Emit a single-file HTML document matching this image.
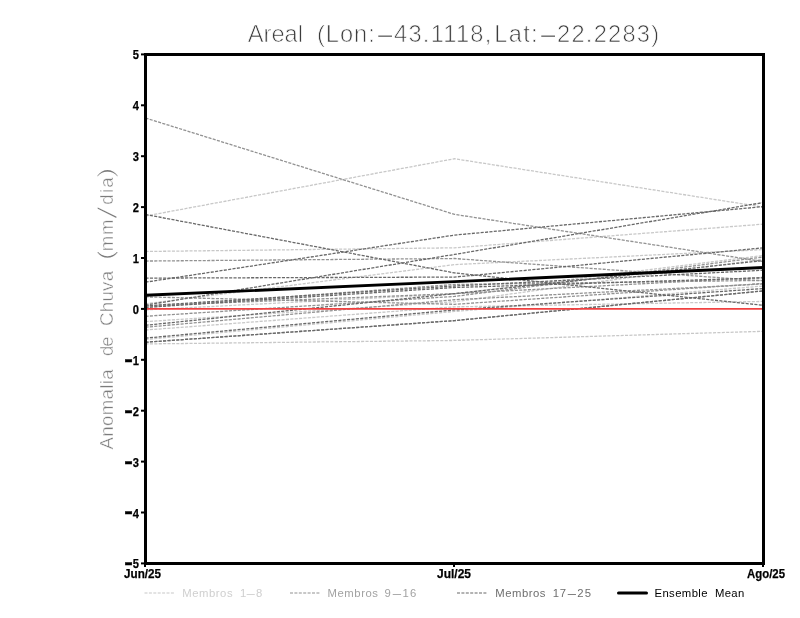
<!DOCTYPE html>
<html lang="pt">
<head>
<meta charset="utf-8">
<title>Areal (Lon:-43.1118,Lat:-22.2283)</title>
<style>
html,body{margin:0;padding:0;background:#fff;}
body{width:800px;height:618px;overflow:hidden;}
svg{display:block;}
text{font-family:"Liberation Sans",sans-serif;}
.m{fill:none;stroke-width:1.3;stroke-dasharray:3.1 1.3;}
.tk{font-weight:bold;font-size:13.6px;fill:#000;stroke:#000;stroke-width:0.25px;}
.ti{font-size:23.66px;fill:#3c3c3c;stroke:#fff;stroke-width:0.7px;}
.yl{font-size:18.6px;fill:#7c7c7c;stroke:#fff;stroke-width:0.45px;}
.lg{font-size:11.3px;}
</style>
</head>
<body>
<svg width="800" height="618" viewBox="0 0 800 618">
<rect x="0" y="0" width="800" height="618" fill="#fff"/>

<g class="m">
<polyline points="145.5,216.01 454.5,158.74 763.5,207.10" stroke="#c8c8c8" />
<polyline points="145.5,251.48 454.5,247.82 763.5,224.15" stroke="#c8c8c8" />
<polyline points="145.5,303.81 454.5,264.62 763.5,249.60" stroke="#c8c8c8" />
<polyline points="145.5,309.92 454.5,293.88 763.5,255.45" stroke="#c8c8c8" />
<polyline points="145.5,321.62 454.5,301.77 763.5,259.02" stroke="#c8c8c8" />
<polyline points="145.5,330.02 454.5,306.86 763.5,301.42" stroke="#c8c8c8" />
<polyline points="145.5,339.44 454.5,311.44 763.5,286.00" stroke="#c8c8c8" />
<polyline points="145.5,343.92 454.5,340.46 763.5,331.30" stroke="#c8c8c8" />
<polyline points="145.5,118.02 454.5,214.38 763.5,261.56" stroke="#929292" />
<polyline points="145.5,261.05 454.5,258.51 763.5,280.90" stroke="#929292" />
<polyline points="145.5,296.89 454.5,304.32 763.5,283.45" stroke="#929292" />
<polyline points="145.5,305.85 454.5,293.63 763.5,277.34" stroke="#929292" />
<polyline points="145.5,307.37 454.5,284.47 763.5,280.40" stroke="#929292" />
<polyline points="145.5,316.28 454.5,296.43 763.5,256.98" stroke="#929292" />
<polyline points="145.5,327.22 454.5,299.74 763.5,283.96" stroke="#929292" />
<polyline points="145.5,342.24 454.5,320.61 763.5,290.88" stroke="#929292" />
<polyline points="145.5,214.48 454.5,272.91 763.5,305.34" stroke="#686868" />
<polyline points="145.5,278.11 454.5,277.09 763.5,247.82" stroke="#686868" />
<polyline points="145.5,282.18 454.5,235.09 763.5,206.59" stroke="#686868" />
<polyline points="145.5,305.13 454.5,254.44 763.5,202.52" stroke="#686868" />
<polyline points="145.5,305.85 454.5,286.00 763.5,270.22" stroke="#686868" />
<polyline points="145.5,307.37 454.5,287.52 763.5,277.85" stroke="#686868" />
<polyline points="145.5,325.29 454.5,293.63 763.5,260.54" stroke="#686868" />
<polyline points="145.5,338.12 454.5,309.92 763.5,288.54" stroke="#686868" />
<polyline points="145.5,342.24 454.5,320.61 763.5,290.88" stroke="#686868" />
</g>
<polyline points="145.5,295.26 454.5,281.67 763.5,267.57" stroke="#000" fill="none" stroke-width="2.9" stroke-linejoin="round"/>
<line x1="146" y1="308.9" x2="763" y2="308.9" stroke="#f04040" stroke-width="1.9"/>
<rect x="145.5" y="54.5" width="618" height="509" fill="none" stroke="#000" stroke-width="3"/>
<line x1="141" y1="563.4" x2="144.5" y2="563.4" stroke="#000" stroke-width="2"/>
<text class="tk" x="132.8" y="568.4" textLength="6.2" lengthAdjust="spacingAndGlyphs">5</text>
<text class="tk" transform="translate(124.2 569.3) scale(1.9 1.6)" x="0" y="0">-</text>
<line x1="141" y1="512.5" x2="144.5" y2="512.5" stroke="#000" stroke-width="2"/>
<text class="tk" x="132.8" y="517.5" textLength="6.2" lengthAdjust="spacingAndGlyphs">4</text>
<text class="tk" transform="translate(124.2 518.4) scale(1.9 1.6)" x="0" y="0">-</text>
<line x1="141" y1="461.6" x2="144.5" y2="461.6" stroke="#000" stroke-width="2"/>
<text class="tk" x="132.8" y="466.6" textLength="6.2" lengthAdjust="spacingAndGlyphs">3</text>
<text class="tk" transform="translate(124.2 467.5) scale(1.9 1.6)" x="0" y="0">-</text>
<line x1="141" y1="410.7" x2="144.5" y2="410.7" stroke="#000" stroke-width="2"/>
<text class="tk" x="132.8" y="415.7" textLength="6.2" lengthAdjust="spacingAndGlyphs">2</text>
<text class="tk" transform="translate(124.2 416.6) scale(1.9 1.6)" x="0" y="0">-</text>
<line x1="141" y1="359.8" x2="144.5" y2="359.8" stroke="#000" stroke-width="2"/>
<text class="tk" x="132.8" y="364.8" textLength="6.2" lengthAdjust="spacingAndGlyphs">1</text>
<text class="tk" transform="translate(124.2 365.7) scale(1.9 1.6)" x="0" y="0">-</text>
<line x1="141" y1="308.9" x2="144.5" y2="308.9" stroke="#000" stroke-width="2"/>
<text class="tk" x="132.8" y="313.9" textLength="6.2" lengthAdjust="spacingAndGlyphs">0</text>
<line x1="141" y1="258.0" x2="144.5" y2="258.0" stroke="#000" stroke-width="2"/>
<text class="tk" x="132.8" y="263.0" textLength="6.2" lengthAdjust="spacingAndGlyphs">1</text>
<line x1="141" y1="207.1" x2="144.5" y2="207.1" stroke="#000" stroke-width="2"/>
<text class="tk" x="132.8" y="212.1" textLength="6.2" lengthAdjust="spacingAndGlyphs">2</text>
<line x1="141" y1="156.2" x2="144.5" y2="156.2" stroke="#000" stroke-width="2"/>
<text class="tk" x="132.8" y="161.2" textLength="6.2" lengthAdjust="spacingAndGlyphs">3</text>
<line x1="141" y1="105.3" x2="144.5" y2="105.3" stroke="#000" stroke-width="2"/>
<text class="tk" x="132.8" y="110.3" textLength="6.2" lengthAdjust="spacingAndGlyphs">4</text>
<line x1="141" y1="54.4" x2="144.5" y2="54.4" stroke="#000" stroke-width="2"/>
<text class="tk" x="132.8" y="59.4" textLength="6.2" lengthAdjust="spacingAndGlyphs">5</text>
<line x1="145.0" y1="564" x2="145.0" y2="567" stroke="#000" stroke-width="2"/>
<line x1="454.0" y1="564" x2="454.0" y2="567" stroke="#000" stroke-width="2"/>
<line x1="763.0" y1="564" x2="763.0" y2="567" stroke="#000" stroke-width="2"/>
<text class="tk" x="124.0" y="577.9" textLength="37" lengthAdjust="spacingAndGlyphs">Jun/25</text>
<text class="tk" x="437.0" y="577.9" textLength="34" lengthAdjust="spacingAndGlyphs">Jul/25</text>
<text class="tk" x="747.0" y="577.9" textLength="38" lengthAdjust="spacingAndGlyphs">Ago/25</text>
<g>
<text class="ti" x="247.8" y="41.6" style="letter-spacing:0px">Areal</text>
<text class="ti" x="317.0" y="41.6">(</text>
<text class="ti" x="325.8" y="41.6" style="letter-spacing:1.0px">Lon:</text>
<text class="ti" transform="translate(374.6 41.6) scale(2.7 1)" x="0" y="0">-</text>
<text class="ti" x="394.0" y="41.6" style="letter-spacing:1.25px">43.1118,</text>
<text class="ti" x="494.3" y="41.6" style="letter-spacing:1.3px">Lat:</text>
<text class="ti" transform="translate(537.5 41.6) scale(2.7 1)" x="0" y="0">-</text>
<text class="ti" x="557.0" y="41.6" style="letter-spacing:1.25px">22.2283)</text>
</g>
<g>
<text class="yl" transform="translate(112.7 449.4) rotate(-90)" x="0" y="0" textLength="80" lengthAdjust="spacing">Anomalia</text>
<text class="yl" transform="translate(112.7 356.0) rotate(-90)" x="0" y="0" textLength="19.5" lengthAdjust="spacing">de</text>
<text class="yl" transform="translate(112.7 326.0) rotate(-90)" x="0" y="0" textLength="55" lengthAdjust="spacing">Chuva</text>
<text class="yl" transform="translate(112.7 260.4) rotate(-90) scale(1.75 1.22)" x="0" y="0" style="letter-spacing:0px;stroke-width:0.75px">(</text>
<text class="yl" transform="translate(112.7 251.2) rotate(-90) scale(1 1)" x="0" y="0" style="letter-spacing:0.7px;stroke-width:0.45px">mm</text>
<text class="yl" transform="translate(116.7 219.4) rotate(-90) scale(2.65 1.46)" x="0" y="0" style="letter-spacing:0px;stroke-width:0.85px">/</text>
<text class="yl" transform="translate(112.7 204.7) rotate(-90) scale(1 1)" x="0" y="0" style="letter-spacing:1.3px;stroke-width:0.45px">dia</text>
<text class="yl" transform="translate(112.7 178.3) rotate(-90) scale(1.75 1.22)" x="0" y="0" style="letter-spacing:0px;stroke-width:0.75px">)</text>
</g>
<g>
<line x1="144.5" y1="593" x2="174.5" y2="593" stroke="#c8c8c8" stroke-width="1.1" stroke-dasharray="3 1.4"/>
<text class="lg" x="182.3" y="597.0" fill="#cfcfcf" textLength="50.3" lengthAdjust="spacing">Membros</text>
<text class="lg" x="240.0" y="597.0" fill="#cfcfcf" style="letter-spacing:0px">1</text>
<text class="lg" x="256.0" y="597.0" fill="#cfcfcf" style="letter-spacing:0px">8</text>
<text class="lg" fill="#cfcfcf" transform="translate(245.18 597.0) scale(2.90 1)" x="0" y="0">-</text>
<line x1="290" y1="593" x2="320" y2="593" stroke="#929292" stroke-width="1.1" stroke-dasharray="3 1.4"/>
<text class="lg" x="327.6" y="597.0" fill="#a2a2a2" textLength="50.3" lengthAdjust="spacing">Membros</text>
<text class="lg" x="384.5" y="597.0" fill="#a2a2a2" style="letter-spacing:0px">9</text>
<text class="lg" x="402.6" y="597.0" fill="#a2a2a2" style="letter-spacing:1.2px">16</text>
<text class="lg" fill="#a2a2a2" transform="translate(391.23 597.0) scale(3.02 1)" x="0" y="0">-</text>
<line x1="457" y1="593" x2="487" y2="593" stroke="#686868" stroke-width="1.1" stroke-dasharray="3 1.4"/>
<text class="lg" x="495.2" y="597.0" fill="#6e6e6e" textLength="50.3" lengthAdjust="spacing">Membros</text>
<text class="lg" x="552.8" y="597.0" fill="#6e6e6e" style="letter-spacing:0.6px">17</text>
<text class="lg" x="577.2" y="597.0" fill="#6e6e6e" style="letter-spacing:1.2px">25</text>
<text class="lg" fill="#6e6e6e" transform="translate(566.15 597.0) scale(2.97 1)" x="0" y="0">-</text>
<line x1="618.5" y1="593" x2="646.5" y2="593" stroke="#000" stroke-width="3" stroke-linecap="round"/>
<text class="lg" x="654.5" y="597.0" fill="#000" textLength="53" lengthAdjust="spacing">Ensemble</text>
<text class="lg" x="715.0" y="597.0" fill="#000" style="letter-spacing:0.3px">Mean</text>
</g>
</svg>
</body>
</html>
